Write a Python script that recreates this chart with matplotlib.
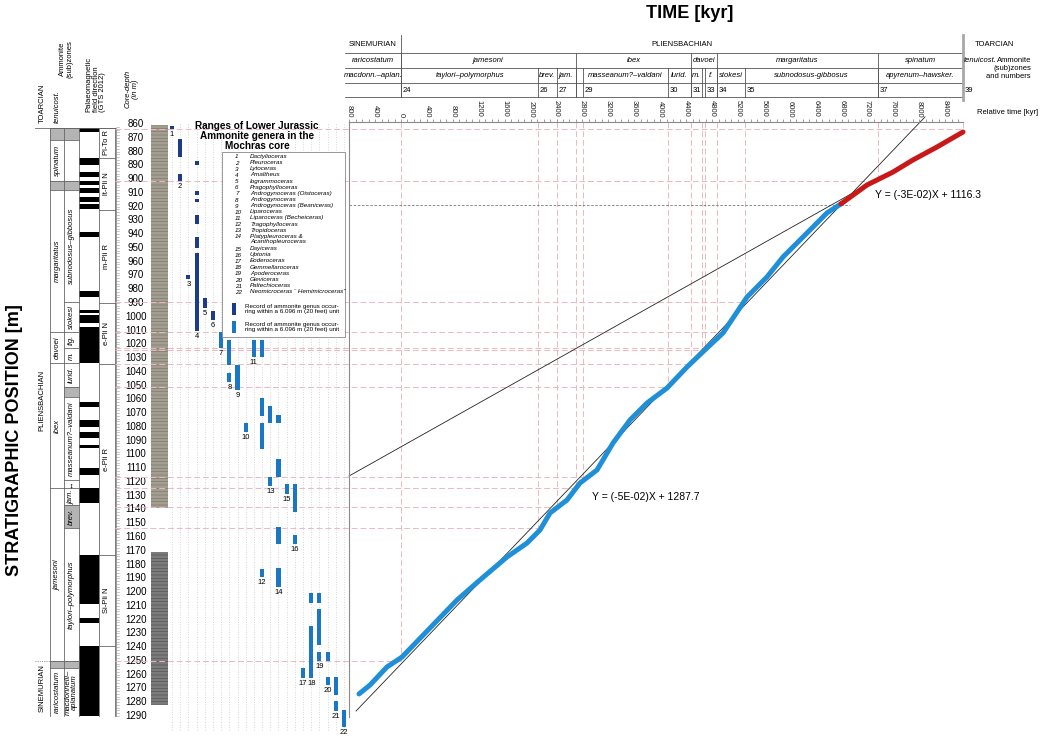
import numpy as np
import matplotlib
matplotlib.use('Agg')
import matplotlib.pyplot as plt
import matplotlib.transforms as mtransforms
from matplotlib.patches import Rectangle
from matplotlib.ticker import FixedLocator, FuncFormatter

plt.rcParams['font.family'] = ['Liberation Sans', 'DejaVu Sans']
plt.rcParams['hatch.linewidth'] = 0.35

# ---------------- data ----------------
# age-depth curve: relative time (kyr) vs core depth (m)
blue_time = [-648, -478, -216, 15, 448, 864, 1219, 1636, 1944, 2145, 2299, 2562, 2762, 3025,
             3272, 3534, 3796, 4105, 4414, 4722, 4969, 5340, 5648, 5895, 6265, 6574, 6790]
blue_depth = [1274.0, 1267.5, 1254.4, 1247.2, 1226.1, 1205.8, 1191.2, 1174.5, 1164.4, 1154.9,
              1142.6, 1133.1, 1120.8, 1111.3, 1091.7, 1075.0, 1062.7, 1051.8, 1036.5, 1022.7,
              1011.8, 985.7, 971.1, 956.6, 939.2, 924.6, 918.0]
red_time = [6790, 7191, 7593, 7901, 8272, 8673]
red_depth = [918.0, 904.3, 894.9, 886.1, 876.7, 865.8]

# linear fits drawn as straight lines
fit_blue_time = [-694, 8086]
fit_blue_depth = [1286.4, 854.9]
fit_red_time = [-802, 8673]
fit_red_depth = [1115.7, 865.1]
kink_depth = 918.8
kink_time = 6929
fit_blue_text = 'Y = (-5E-02)X + 1287.7'
fit_red_text = 'Y = (-3E-02)X + 1116.3'

# zone boundaries: time (kyr) and matching depth (m)
bound_time = [0, 2114, 2407, 2701, 2809, 4120, 4475, 4645, 4691, 4877, 5309, 7361, 8673]
bound_depth = [1250, 1153.5, 1138, 1124.4, 1116.4, 1051, 1034.3, 1024, 1022.7, 1011, 989.3, 901.4, 863.6]

# header (time scale)
stage_names = ['SINEMURIAN', 'PLIENSBACHIAN']
stage_edges = [-870, 0, 8673]
zone_names = ['raricostatum', 'jamesoni', 'ibex', 'davoei', 'margaritatus', 'spinatum']
zone_edges = [-870, 0, 2701, 4475, 4877, 7361, 8673]
sub_names = ['macdonn.\u2013aplan.', 'taylori\u2013polymorphus', 'brev.', 'jam.', '',
             'masseanum?\u2013valdani', 'lurid.', 'm.', '', 'f.', 'stokesi',
             'subnodosus-gibbosus', 'apyrenum\u2013hawsker.']
sub_numbers = ['', '24', '26', '27', '', '29', '30', '31', '', '33', '34', '35', '37']
sub_edges = [-870, 0, 2114, 2407, 2701, 2809, 4120, 4475, 4645, 4691, 4877, 5309, 7361, 8673]
time_ticks = np.arange(-800, 8401, 400)

# stratigraphic log (depth, m)
depth_ticks = np.arange(860, 1291, 10)
log_stage_names = ['PLIENSBACHIAN', 'SINEMURIAN']
log_stage_top = [871.6, 1250]
log_zone_top = [862.9, 871.6, 901.4, 908, 1011, 1033.6, 1124.4, 1250, 1255]
log_zone_names = ['', 'spinatum', '', 'margaritatus', 'davoei', 'ibex', 'jamesoni', '', 'raricostatum']
log_zone_gray = [1, 0, 1, 0, 0, 0, 0, 1, 0]
log_sub_top = [862.9, 871.6, 901.4, 908, 989, 1011, 1022.7, 1033.6, 1051, 1058, 1118.6,
               1124.4, 1136.7, 1153.5, 1250, 1255]
log_sub_names = ['', '', '', 'subnodosus\u2013gibbosus', 'stokesi', 'fig.', 'm.', 'lurid.', '',
                 'masseanum?\u2013valdani', '\u2194', 'jam.', 'brev.', 'taylori\u2013polymorphus', '',
                 'macdonnelli\u2013\naplanatum']
log_sub_gray = [1, 0, 1, 0, 0, 0, 0, 0, 1, 0, 0, 0, 1, 0, 1, 0]
log_bottom = 1290

pol_top = [862.9, 884.7, 894.9, 901.4, 906.5, 913.0, 918.1, 938.4, 981.3, 995.0, 998.7, 1007.5,
           1062.0, 1075.0, 1083.7, 1093.0, 1110.0, 1124.4, 1173.0, 1218.8, 1239.0]
pol_bot = [866.0, 889.8, 898.5, 904.3, 910.1, 916.7, 921.7, 942.1, 985.7, 997.5, 1004.5, 1033.6,
           1065.6, 1080.0, 1088.0, 1095.3, 1115.0, 1135.3, 1208.7, 1222.5, 1290.0]
chron_top = [862.9, 884.7, 922.5, 990, 1034, 1173, 1239]
chron_names = ['Pl-To R', 'lt-Pli N', 'm-Pli R', 'e-Pli N', 'e-Pli R', 'Si-Pli N', '']

core_top = [860.5, 1171]
core_bot = [1139, 1282]

# ammonite genus ranges
genus_names = ['Dactylioceras', 'Pleuroceras', 'Lytoceras', 'Amaltheus', 'Iogrammoceras',
               'Pragophylloceras', 'Androgynoceras (Oistoceras)', 'Androgynoceras',
               'Androgynoceras (Beaniceras)', 'Liparoceras', 'Liparoceras (Becheiceras)',
               'Tragophylloceras', 'Tropidoceras', 'Platypleuroceras &\nAcanthopleuroceras',
               'Dayiceras', 'Uptonia', 'Eoderoceras', 'Gemmellaroceras', 'Apoderoceras',
               'Gleviceras', 'Paltechioceras', 'Neomicroceras \u201c Hemimicroceras\u201d']
bar_genus = [1, 2, 2, 3, 4, 4, 4, 4, 4, 4, 5, 6, 7, 8, 8, 9, 10, 11, 12, 12, 12, 12,
             13, 13, 14, 14, 14, 14, 15, 16, 16, 17, 18, 18, 19, 19, 19, 20, 20, 21, 21, 22]
bar_top = [861.5, 870.9, 896.3, 969.7, 886.9, 908.7, 914.5, 926.1, 942.1, 953.7, 986.4, 995.8,
           1011.1, 1016.9, 1040.9, 1035.1, 1077.2, 1016.9, 1016.9, 1059.0, 1077.2, 1183.2,
           1064.8, 1116.4, 1071.4, 1103.3, 1152.7, 1182.5, 1121.5, 1121.5, 1158.5, 1255.1,
           1200.7, 1224.6, 1200.7, 1212.3, 1243.5, 1243.5, 1261.7, 1261.7, 1279.1, 1285.7]
bar_bot = [863.6, 884.0, 901.4, 972.6, 889.8, 911.6, 916.7, 932.6, 950.1, 1010.4, 993.7, 1002.4,
           1022.7, 1035.1, 1047.4, 1053.2, 1083.7, 1029.2, 1029.2, 1072.1, 1096.1, 1189.0,
           1077.2, 1123.0, 1077.2, 1116.4, 1165.1, 1196.3, 1128.8, 1141.8, 1165.1, 1262.4,
           1207.9, 1262.4, 1207.9, 1238.4, 1250.1, 1250.1, 1267.5, 1274.8, 1286.4, 1298.1]
dark_genera = [1, 2, 3, 4, 5, 6]

# ---------------- layout ----------------
W, H = 1042, 740
PINK = '#efb7c1'
DARK = '#1b3c8c'
LIGHT = '#1a77c4'


def t_at(px):
    return (px - 401) / 0.0648


def d_at(py):
    return 860 + (py - 124) / 1.3767


fig = plt.figure(figsize=(W / 100, H / 100), dpi=100)

ax_px = fig.add_axes([0, 0, 1, 1])
ax_px.set_xlim(0, W)
ax_px.set_ylim(H, 0)
ax_px.axis('off')
ax_px.set_autoscale_on(False)

ax = fig.add_axes([0, 0, 1, 1])
ax.set_xlim(t_at(0), t_at(W))
ax.set_ylim(d_at(H), d_at(0))
ax.patch.set_alpha(0)
ax.set_autoscale_on(False)

ax_gen = fig.add_axes([0, 0, 1, 1])
ax_gen.set_xlim(1 + (0 - 172) / 8.19, 1 + (W - 172) / 8.19)
ax_gen.set_ylim(d_at(H), d_at(0))
ax_gen.axis('off')
ax_gen.set_autoscale_on(False)

ax_top = fig.add_axes([0, 0, 1, 1])
ax_top.set_xlim(0, W)
ax_top.set_ylim(H, 0)
ax_top.axis('off')
ax_top.set_autoscale_on(False)

hdr = mtransforms.blended_transform_factory(ax.transData, ax_px.transData)
lft = mtransforms.blended_transform_factory(ax_px.transData, ax.transData)

# ---------------- main time axis ----------------
for s in ['bottom', 'right']:
    ax.spines[s].set_visible(False)
ax.spines['top'].set_position(('data', d_at(122)))
ax.spines['top'].set_bounds(-802.5, 8673)
ax.spines['left'].set_position(('data', -802.5))
ax.spines['left'].set_bounds(d_at(122), 1291)
for s in ['top', 'left']:
    ax.spines[s].set_color('#8a8a8a')
    ax.spines[s].set_linewidth(0.8)
ax.xaxis.tick_top()
ax.set_xticks(time_ticks)
ax.xaxis.set_minor_locator(FixedLocator(np.arange(-800, 8700, 100)))
ax.xaxis.set_major_formatter(FuncFormatter(lambda v, p: f'{abs(v):.0f}'))
ax.tick_params(axis='x', which='both', direction='out', length=2.5, width=0.5,
               colors='#777', labelcolor='#222', labelsize=5.5, labelrotation=-90, pad=1)
ax.set_yticks([])

# correlation (boundary) lines
ax.hlines(bound_depth, t_at(115), bound_time, colors=PINK, linestyles=(0, (6, 3)), lw=0.7, zorder=1)
ax.vlines(bound_time, d_at(122), bound_depth, colors=PINK, linestyles=(0, (6, 3)), lw=0.7, zorder=1)
ax.hlines(kink_depth, -802.5, kink_time, colors='#777', linestyles=(0, (3, 2)), lw=0.6, zorder=1)

# fits and curve
ax.plot(fit_blue_time, fit_blue_depth, color='#222', lw=0.6, zorder=2)
ax.plot(fit_red_time, fit_red_depth, color='#222', lw=0.6, zorder=2)
ax.plot(blue_time, blue_depth, color='#1f8fd8', lw=3.6, solid_capstyle='round',
        solid_joinstyle='round', zorder=3)
ax.plot(red_time, red_depth, color='#c81818', lw=3.6, solid_capstyle='round',
        solid_joinstyle='round', zorder=3)
ax.text(t_at(592), d_at(497), fit_blue_text, fontsize=7.5, va='center', ha='left')
ax.text(t_at(875), d_at(195), fit_red_text, fontsize=7.5, va='center', ha='left')

# ---------------- header ----------------
hl = dict(color='#555', lw=0.6)
for y in [53, 68, 83, 97]:
    ax_px.plot([stage_edges[0], stage_edges[-1]], [y, y], transform=hdr, **hl)
for x in stage_edges[1:-1]:
    ax_px.plot([x, x], [35, 97], transform=hdr, **hl)
for x in zone_edges[1:-1]:
    ax_px.plot([x, x], [53, 97], transform=hdr, **hl)
for x in sub_edges[1:-1]:
    ax_px.plot([x, x], [68, 97], transform=hdr, **hl)
ax_px.plot([stage_edges[-1]] * 2, [35, 100], transform=hdr, color='#a8a8a8', lw=2)

for i, name in enumerate(stage_names):
    ax_px.text((stage_edges[i] + stage_edges[i + 1]) / 2, 44, name, transform=hdr,
               ha='center', va='center', fontsize=5.5)
for i, name in enumerate(zone_names):
    ax_px.text((zone_edges[i] + zone_edges[i + 1]) / 2, 60.5, name, transform=hdr,
               ha='center', va='center', fontsize=5.5, style='italic')
for i, name in enumerate(sub_names):
    ax_px.text((sub_edges[i] + sub_edges[i + 1]) / 2, 75.5, name, transform=hdr,
               ha='center', va='center', fontsize=5.5, style='italic')
    ax_px.text(sub_edges[i] + 25, 90, sub_numbers[i], transform=hdr,
               ha='left', va='center', fontsize=5.5)

ax_px.text(975, 44, 'TOARCIAN', ha='left', va='center', fontsize=5.5)
ax_px.text(964, 61, 'tenuicost.', ha='left', va='center', fontsize=5.5, style='italic')
ax_px.text(1031, 61, 'Ammonite', ha='right', va='center', fontsize=5.5)
ax_px.text(1031, 69, '(sub)zones', ha='right', va='center', fontsize=5.5)
ax_px.text(1031, 77, 'and numbers', ha='right', va='center', fontsize=5.5)
ax_px.text(965, 90, '39', ha='left', va='center', fontsize=5.5)
ax_px.text(977, 112, 'Relative time [kyr]', ha='left', va='center', fontsize=5.5)

ax_px.text(690, 13, 'TIME [kyr]', ha='center', va='center', fontsize=13, fontweight='bold')
ax_px.text(15, 440, 'STRATIGRAPHIC POSITION [m]', ha='center', va='center', fontsize=13,
           fontweight='bold', rotation=90)

# left column headers
ax_px.text(42, 123, 'TOARCIAN', rotation=90, ha='center', va='bottom', fontsize=5.5)
ax_px.text(57, 123, 'tenuicost.', rotation=90, ha='center', va='bottom', fontsize=5.5,
           style='italic')
ax_px.text(66, 78, 'Ammonite\n(sub)zones', rotation=90, ha='center', va='bottom',
           fontsize=5.5, linespacing=1.0)
ax_px.text(96, 112, 'Palaeomagnetic\nfield direction\n(GTS 2012)', rotation=90, ha='center',
           va='bottom', fontsize=5.5, multialignment='left', linespacing=1.0)
ax_px.text(132, 108, 'Core-depth\n(in m)', rotation=90, ha='center', va='bottom',
           fontsize=5.5, style='italic', linespacing=1.0)

# ---------------- stratigraphic log ----------------
ll = dict(color='#666', lw=0.6)
for x in [50, 64, 79, 99, 115]:
    ax_px.plot([x, x], [log_zone_top[0], log_bottom], transform=lft, **ll)
ax_px.plot([35, 115], [log_zone_top[0]] * 2, transform=lft, **ll)

stage_bot = log_stage_top[1:] + [log_bottom]
for i, name in enumerate(log_stage_names):
    ax_px.text(42, (log_stage_top[i] + stage_bot[i]) / 2, name, transform=lft, rotation=90,
               ha='center', va='center', fontsize=5.5)
ax_px.plot([35, 79], [log_stage_top[1]] * 2, transform=lft, color='#666', lw=0.6, ls=':')

zone_bot = log_zone_top[1:] + [log_bottom]
for i, name in enumerate(log_zone_names):
    if log_zone_gray[i]:
        ax_px.add_patch(Rectangle((50, log_zone_top[i]), 14, zone_bot[i] - log_zone_top[i],
                                  transform=lft, fc='#b4b4b4', ec='none'))
    ax_px.plot([50, 64], [log_zone_top[i]] * 2, transform=lft, **ll)
    ax_px.text(57, (log_zone_top[i] + zone_bot[i]) / 2, name, transform=lft, rotation=90,
               ha='center', va='center', fontsize=5.5, style='italic')

sub_bot = log_sub_top[1:] + [log_bottom]
for i, name in enumerate(log_sub_names):
    if log_sub_gray[i]:
        ax_px.add_patch(Rectangle((64, log_sub_top[i]), 15, sub_bot[i] - log_sub_top[i],
                                  transform=lft, fc='#b4b4b4', ec='none'))
    ax_px.plot([64, 79], [log_sub_top[i]] * 2, transform=lft, **ll)
    ax_px.text(71.5, (log_sub_top[i] + sub_bot[i]) / 2, name, transform=lft, rotation=90,
               ha='center', va='center', fontsize=5.5, linespacing=0.9,
               style='normal' if name == '\u2194' else 'italic')

for top, bot in zip(pol_top, pol_bot):
    ax_px.add_patch(Rectangle((79, top), 20, bot - top, transform=lft, fc='black', ec='none'))

chron_bot = chron_top[1:] + [log_bottom]
for i, name in enumerate(chron_names):
    ax_px.plot([99, 115], [chron_top[i]] * 2, transform=lft, **ll)
    ax_px.text(107, (chron_top[i] + chron_bot[i]) / 2, name, transform=lft, rotation=90,
               ha='center', va='center', fontsize=5.5)

# depth ruler
ax_px.plot([116, 116], [log_zone_top[0], log_bottom], transform=lft, color='#888', lw=0.6)
for d in np.arange(862, 1291, 2):
    ax_px.plot([116, 118.5], [d, d], transform=lft, color='#999', lw=0.4)
for d in depth_ticks:
    ax_px.text(136, d, f'{d}', transform=lft, ha='center', va='center', fontsize=7)

# core photo column
ax_px.add_patch(Rectangle((151, core_top[0]), 17, core_bot[0] - core_top[0], transform=lft,
                          fc='#a49e91', ec='#6e6a60', hatch='-----', lw=0))
ax_px.add_patch(Rectangle((151, core_top[1]), 17, core_bot[1] - core_top[1], transform=lft,
                          fc='#7b7b7b', ec='#444444', hatch='-----', lw=0))

# ---------------- ammonite ranges ----------------
genus_ids = np.arange(1, len(genus_names) + 1)
ax_gen.vlines(genus_ids, d_at(124), 1300, colors='#c9c9c9', linestyles=(0, (1, 2)), lw=0.6)
for g, top, bot in zip(bar_genus, bar_top, bar_bot):
    ax_gen.bar(g, bot - top, bottom=top, width=0.5,
               color=DARK if g in dark_genera else LIGHT, zorder=3)
for g in genus_ids:
    lowest = max(b for gg, b in zip(bar_genus, bar_bot) if gg == g)
    ax_gen.text(g, lowest + 1.6, str(g), ha='center', va='top', fontsize=5.5)

# legend box
ax_top.add_patch(Rectangle((222, 152), 123, 185, fc='white', ec='#888', lw=0.6))
for k, line in enumerate(['Ranges of Lower Jurassic', 'Ammonite genera in the', 'Mochras core']):
    ax_top.text(257, 126 + k * 10.2, line, ha='center', va='center', fontsize=7.2,
                fontweight='bold')
row = 0
for g, name in zip(genus_ids, genus_names):
    y = 157 + row * 6.15
    ax_top.text(235, y, str(g), ha='left', va='center', fontsize=4.5, style='italic')
    ax_top.text(250, y, name, ha='left', va='top', fontsize=4.5, style='italic',
                linespacing=1.1, transform=ax_top.transData + mtransforms.ScaledTranslation(
                    0, 2.2 / 72, fig.dpi_scale_trans))
    row += name.count('\n') + 1
rec_text = 'Record of ammonite genus occur-\nring within a 6.096 m (20 feet) unit'
for y0, c in [(303, DARK), (321, LIGHT)]:
    ax_top.add_patch(Rectangle((232, y0), 4, 12, fc=c, ec='none'))
    ax_top.text(245, y0 + 6, rec_text, ha='left', va='center', fontsize=4.5, linespacing=1.1)

fig.savefig('out.png', dpi=100)
